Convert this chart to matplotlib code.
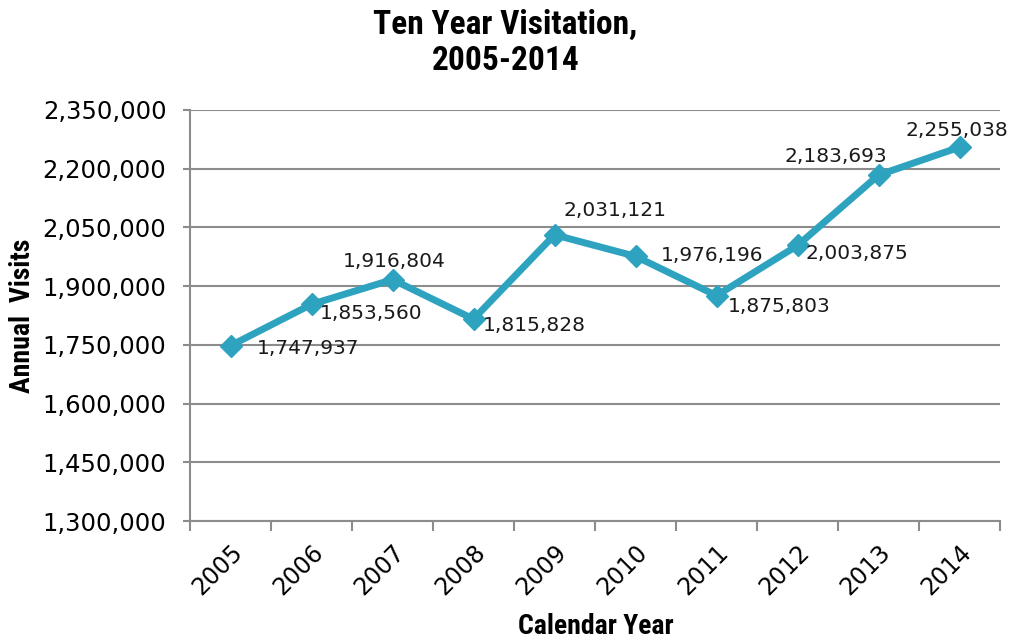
import numpy as np
import matplotlib.pyplot as plt
from matplotlib.ticker import FuncFormatter, FixedLocator

years = ['2005', '2006', '2007', '2008', '2009', '2010', '2011', '2012', '2013', '2014']
visits = [1747937, 1853560, 1916804, 1815828, 2031121, 1976196, 1875803, 2003875, 2183693, 2255038]

# label offsets in pixels (dx, dy) and horizontal alignment
label_pos = [(26, -3, 'left'), (8, -9, 'left'), (2, 18, 'center'), (9, -6, 'left'),
             (9, 24, 'left'), (25, 1, 'left'), (11, -11, 'left'), (8, -8, 'left'),
             (9, 19, 'right'), (-3, 17, 'center')]

line_color = '#2ea3bf'
grid_color = '#8c8c8c'

fig = plt.figure(figsize=(10.11, 6.39), dpi=100)
ax = fig.add_axes([190 / 1011, 1 - 521 / 639, 810 / 1011, 411 / 639])

x = np.arange(len(years))
ax.plot(x, visits, color=line_color, lw=5, marker='D', ms=11, zorder=3)

for xi, v, (dx, dy, ha) in zip(x, visits, label_pos):
    ax.annotate(f'{v:,}', (xi, v), xytext=(dx, dy), textcoords='offset pixels',
                ha=ha, va='center', fontsize=14.5, color='#1a1a1a', zorder=4)

ax.set_xlim(-0.5, len(years) - 0.5)
ax.set_ylim(1300000, 2350000)
ax.set_yticks(np.arange(1300000, 2350001, 150000))
ax.yaxis.set_major_formatter(FuncFormatter(lambda v, p: f'{int(v):,}'))
ax.grid(axis='y', color=grid_color, lw=1.5)
ax.set_axisbelow(True)

ax.set_xticks(x)
ax.set_xticklabels(years, rotation=45, ha='right', rotation_mode='anchor', fontsize=17)
ax.xaxis.set_minor_locator(FixedLocator(np.arange(-0.5, len(years), 1)))
ax.tick_params(axis='x', which='major', length=0, pad=14)
ax.tick_params(axis='x', which='minor', length=7, width=1.5, color=grid_color)
ax.tick_params(axis='y', length=5, width=1.5, color=grid_color, labelsize=17.5, pad=12)

for s in ['top', 'right']:
    ax.spines[s].set_visible(False)
for s in ['left', 'bottom']:
    ax.spines[s].set_color(grid_color)
    ax.spines[s].set_linewidth(1.5)

cond = ['Liberation Sans Narrow', 'Roboto Condensed', 'DejaVu Sans Condensed', 'Roboto', 'DejaVu Sans']
fig.text(0.5, 1 - 43 / 639, 'Ten Year Visitation,\n2005-2014', ha='center', va='center',
         fontsize=24, fontweight='bold', family=cond, fontstretch='condensed', linespacing=1.15)
fig.text(23 / 1011, 1 - 316 / 639, 'Annual  Visits', rotation=90, ha='center', va='center',
         fontsize=20, fontweight='bold', family=cond, fontstretch='condensed')
fig.text(596 / 1011, 1 - 626 / 639, 'Calendar Year', ha='center', va='center',
         fontsize=20, fontweight='bold', family=cond, fontstretch='condensed')

fig.savefig('out.png', dpi=100)
